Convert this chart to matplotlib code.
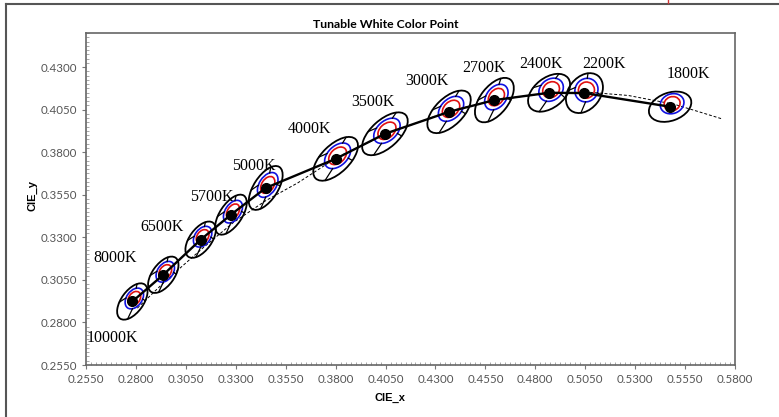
import numpy as np
import matplotlib
matplotlib.use('Agg')
import matplotlib.pyplot as plt
from matplotlib.patches import Ellipse
from matplotlib.lines import Line2D
from matplotlib.transforms import ScaledTranslation

# 測定点（CIE xy）
cct_labels = ['10000K', '8000K', '6500K', '5700K', '5000K', '4000K',
              '3500K', '3000K', '2700K', '2400K', '2200K', '1800K']
cie_x = [0.2782, 0.2937, 0.3124, 0.3276, 0.3450, 0.3800,
         0.4047, 0.4368, 0.4595, 0.4869, 0.5046, 0.5475]
cie_y = [0.2923, 0.3080, 0.3286, 0.3433, 0.3590, 0.3761,
         0.3908, 0.4037, 0.4106, 0.4149, 0.4147, 0.4067]

# 黒体軌跡（破線）
planck_x = [0.2807, 0.2952, 0.3135, 0.3287, 0.3451, 0.3611, 0.3805, 0.4053,
            0.4369, 0.4599, 0.4862, 0.5058, 0.5266, 0.5497, 0.5612, 0.5734]
planck_y = [0.2884, 0.3048, 0.3237, 0.3386, 0.3516, 0.3620, 0.3768, 0.3907,
            0.4041, 0.4106, 0.4147, 0.4153, 0.4133, 0.4081, 0.4040, 0.3996]

# 楕円（外側の黒）：長半径・短半径（px）、角度
ell_a = [21, 21, 21, 23, 25, 28, 28, 27, 26, 24, 22, 22]
ell_b = [11, 11, 11, 11, 12, 14, 14, 14, 14, 15, 16, 14]
ell_ang = [54, 54, 54, 56, 57, 44, 42, 44, 52, 38, 52, 20]

# ラベル位置（点からのずれ px）
lab_dx = [-20, -48, -39, -19, -12, -26, -12, -22, -10, -8, 20, 18]
lab_dy = [-37, 17, 13, 18, 22, 30, 32, 31, 32, 29, 29, 33]

fig = plt.figure(figsize=(7.79, 4.17), dpi=100)
ax = fig.add_axes([86/779, 1-365/417, (735-86)/779, (365-33)/417])

ax.set_xlim(0.255, 0.580)
ax.set_ylim(0.255, 0.450)
ax.set_xticks(np.arange(0.255, 0.5801, 0.025))
ax.set_yticks(np.arange(0.255, 0.4301, 0.025))
ax.set_xticks(np.arange(0.255, 0.5801, 0.0025), minor=True)
ax.set_yticks(np.arange(0.255, 0.4501, 0.0025), minor=True)
ax.xaxis.set_major_formatter(matplotlib.ticker.FormatStrFormatter('%.4f'))
ax.yaxis.set_major_formatter(matplotlib.ticker.FormatStrFormatter('%.4f'))
ax.tick_params(which='major', direction='out', length=3, width=0.8,
               color='#777777', labelsize=8.3, labelcolor='#555555')
ax.tick_params(which='minor', direction='in', length=2, width=0.6, color='#999999')
for lab in ax.get_xticklabels() + ax.get_yticklabels():
    lab.set_fontfamily('Lato')
for s in ax.spines.values():
    s.set_color('#666666')
    s.set_linewidth(1.2)

ax.set_xlabel('CIE_x', fontsize=8, fontweight='bold', family='Liberation Sans')
ax.set_ylabel('CIE_y', fontsize=8, fontweight='bold', family='Liberation Sans')
ax.xaxis.set_label_coords((390-86)/649, -0.085)
ax.yaxis.set_label_coords(-0.075, 0.51)

# 黒体軌跡
ax.plot(planck_x, planck_y, color='black', lw=0.7, dashes=(3, 2), zorder=2)

# 楕円
inch = fig.dpi_scale_trans
for i in range(len(cie_x)):
    tr = inch + ScaledTranslation(cie_x[i], cie_y[i], ax.transData)
    a, b, ang = ell_a[i]/100, ell_b[i]/100, ell_ang[i]
    ax.add_patch(Ellipse((0, 0), 2*a, 2*b, angle=ang, transform=tr,
                         fill=False, ec='black', lw=1.3, zorder=3))
    off = (0.02, 0.03)
    ax.add_patch(Ellipse(off, 2*a*0.55, 2*b*0.7, angle=ang, transform=tr,
                         fill=False, ec='#1010e0', lw=1.2, zorder=3))
    ax.add_patch(Ellipse(off, 2*a*0.37, 2*b*0.5, angle=ang, transform=tr,
                         fill=False, ec='#e01010', lw=1.2, zorder=3))
    if i < len(cie_x) - 1:
        th = np.deg2rad(ang)
        for t in np.deg2rad([36, 113, 216, 293]):
            pts = []
            for fa, fb, o in [(0.55, 0.7, off), (1.0, 1.0, (0, 0))]:
                lx, ly = a*fa*np.cos(t), b*fb*np.sin(t)
                pts.append((o[0] + lx*np.cos(th) - ly*np.sin(th),
                            o[1] + lx*np.sin(th) + ly*np.cos(th)))
            ax.add_line(Line2D([pts[0][0], pts[1][0]], [pts[0][1], pts[1][1]],
                               color='black', lw=0.9, transform=tr, zorder=3))

# 測定点と実線
ax.plot(cie_x, cie_y, color='black', lw=1.7, zorder=4)
ax.plot(cie_x, cie_y, 'o', color='black', ms=7, zorder=5)

for i, lab in enumerate(cct_labels):
    ax.annotate(lab, (cie_x[i], cie_y[i]), xytext=(lab_dx[i], lab_dy[i]),
                textcoords='offset pixels', ha='center', va='center',
                fontsize=11.5, family='Liberation Serif', zorder=6)

fig.text(386/779, 1-25/417, 'Tunable White Color Point', ha='center', va='center',
         fontsize=8.8, fontweight='bold', family='Lato')

# 外枠
fig.add_artist(Line2D([6/779, 6/779], [0, 1-4/417], color='#555555', lw=1.5))
fig.add_artist(Line2D([6/779, 1], [1-4/417, 1-4/417], color='#555555', lw=1.5))
fig.add_artist(Line2D([668/779, 668/779], [1, 1-3/417], color='#cc3333', lw=1))

fig.savefig('out.png', dpi=100)
